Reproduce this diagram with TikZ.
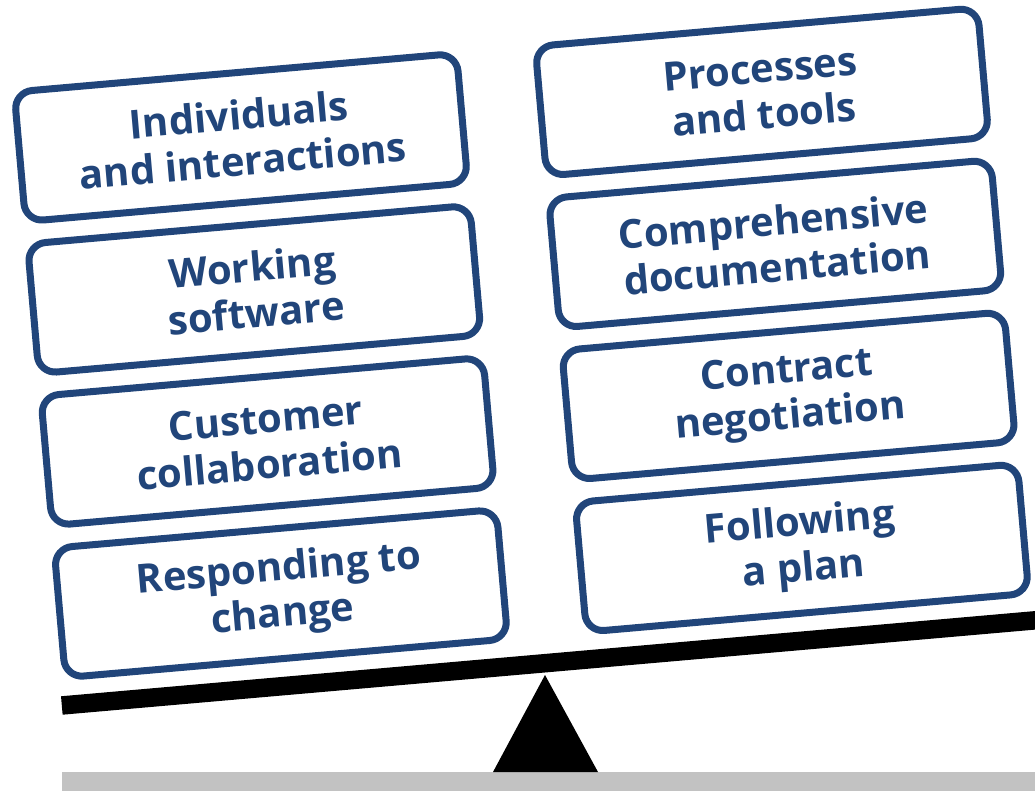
\documentclass[tikz,border=0pt]{standalone}
\usepackage{fontspec}
\setmainfont{Open Sans}
\usepackage{tikz}
\usetikzlibrary{positioning}
\definecolor{colorvalue}{rgb}{0.13, 0.27, 0.48}
\definecolor{colorground}{rgb}{0.76, 0.76, 0.76}
\tikzstyle{value}=[rectangle, rounded corners=18pt, draw=colorvalue, line width=7pt, fill=white, minimum width=444pt, minimum height=130pt, inner sep=0pt, align=center, text=colorvalue, font=\bfseries\fontsize{40}{46}\selectfont]
\tikzstyle{beam}=[fill=black]
\begin{document}
\begin{tikzpicture}[x=1pt, y=-1pt]
		
		\useasboundingbox (0, 0) rectangle (1035, 791);
		\clip (0, 0) rectangle (1035, 791);
		
		% ground and fulcrum
		\fill[colorground] (62, 772) rectangle (1035, 791);
		\coordinate (pivot) at (545, 675);
		\fill (493, 772) -- (pivot) -- (598, 772) -- cycle;
		
		\begin{scope}[shift={(pivot)}, rotate=5, transform shape]
		
		\fill[beam] (-484, -21) rectangle (520, -2.5);
		
		% left side
		\node[value] at (-256, -562) (ind) {Individuals\\and interactions};
		\node[value] at (-256, -409.4) (work) {Working\\software};
		\node[value] at (-256, -256.8) (cust) {Customer\\collaboration};
		\node[value] at (-256, -104.2) (resp) {Responding to\\change};
		
		% right side
		\node[value] at (267, -562) (proc) {Processes\\and tools};
		\node[value] at (267, -409.4) (docu) {Comprehensive\\documentation};
		\node[value] at (267, -256.8) (cont) {Contract\\negotiation};
		\node[value] at (267, -104.2) (plan) {Following\\a plan};
		
		\end{scope}
		
		\end{tikzpicture}
\end{document}
